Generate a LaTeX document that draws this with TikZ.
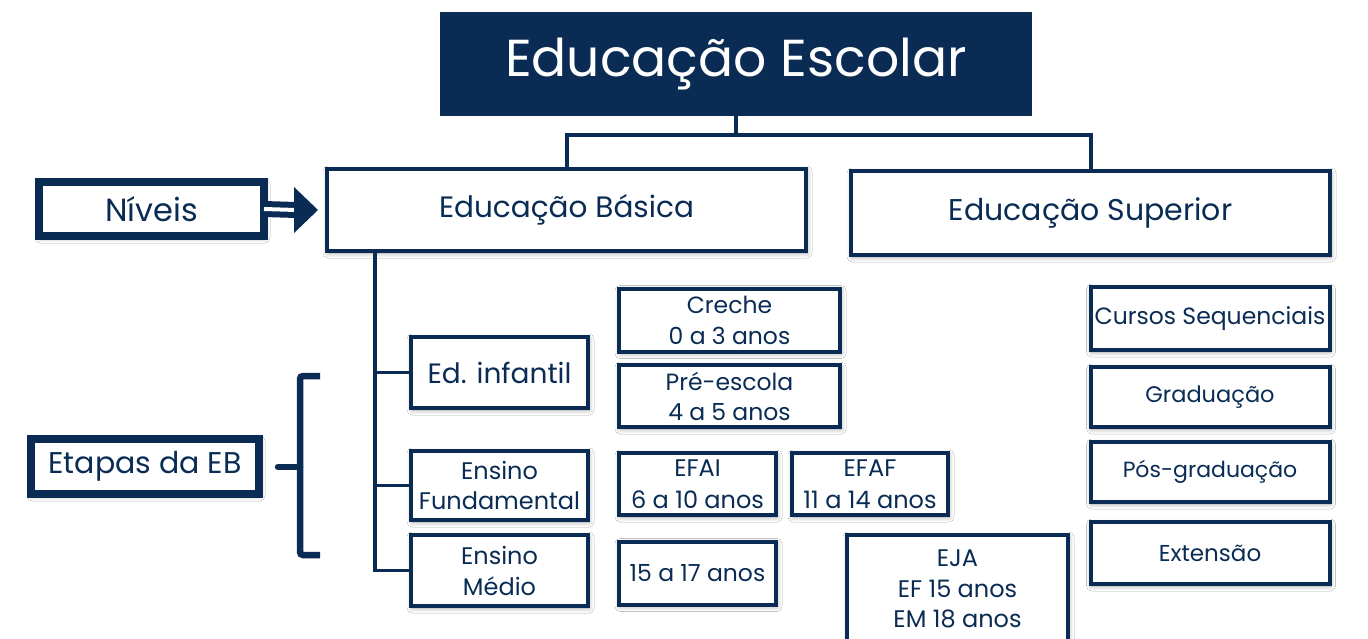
\documentclass[tikz,border=0pt]{standalone}
\usepackage{fontspec}
\setmainfont{Poppins}
\usetikzlibrary{shadows,shadows.blur}
\definecolor{navy}{HTML}{0A2C54}
\begin{document}
\begin{tikzpicture}[x=1pt,y=-1pt,
  box/.style={draw=navy, line width=4pt, fill=white, text=navy, inner sep=0pt,
    outer sep=0pt, align=center, font=\fontsize{22}{31}\selectfont,
    blur shadow={shadow xshift=1pt, shadow yshift=-2pt, shadow blur steps=6, shadow blur radius=5pt, shadow opacity=35}},
  heavybox/.style={box, line width=8pt},
  link/.style={draw=navy, line width=3.5pt},
  dimbox/.style 2 args={minimum width=#1, minimum height=#2}]
\fill[white] (0,0) rectangle (1368,639);
\useasboundingbox (0,0) rectangle (1368,639);
\clip (0,0) rectangle (1368,639);

% title
\node[fill=navy, text=white, inner sep=0pt, outer sep=0pt, dimbox={592pt}{104pt},
  font=\fontsize{52}{60}\selectfont] (title) at (736,64) {Educação Escolar};

% level boxes
\node[box, dimbox={479pt}{82pt}, font=\fontsize{29.5}{34}\selectfont] (basica) at (566.5,210) {Educação Básica};
\node[box, dimbox={479pt}{84pt}, font=\fontsize{30}{34}\selectfont] (superior) at (1090.5,213) {Educação Superior};
\node[heavybox, dimbox={225pt}{54pt}, font=\fontsize{32}{36}\selectfont] (niveis) at (151.5,209) {Níveis};
\node[heavybox, dimbox={228pt}{55pt}, font=\fontsize{30}{36}\selectfont] (etapas) at (145,466.5) {Etapas da EB};

% stages
\node[box, dimbox={177pt}{71pt}, font=\fontsize{28}{32}\selectfont] (edinf) at (499.5,372.5) {Ed. infantil};
\node[box, dimbox={177pt}{69pt}, font=\fontsize{24}{30}\selectfont] (ensfund) at (499.5,485.5) {Ensino\\Fundamental};
\node[box, dimbox={177pt}{71pt}, font=\fontsize{24}{31}\selectfont] (ensmed) at (499.5,570.5) {Ensino\\Médio};

% sub-stages
\node[box, dimbox={221pt}{63pt}, font=\fontsize{23.5}{31}\selectfont] (creche) at (729.5,320) {Creche\\0 a 3 anos};
\node[box, dimbox={221pt}{62pt}, font=\fontsize{23.5}{30}\selectfont] (pre) at (729.5,396) {Pré-escola\\4 a 5 anos};
\node[box, dimbox={157pt}{62pt}, font=\fontsize{24}{32}\selectfont] (efai) at (697.5,484) {EFAI\\6 a 10 anos};
\node[box, dimbox={156pt}{62pt}, font=\fontsize{24}{32}\selectfont] (efaf) at (870,484) {EFAF\\11 a 14 anos};
\node[box, dimbox={157pt}{63pt}, font=\fontsize{23.5}{30}\selectfont] (em) at (697.5,573) {15 a 17 anos};
\node[box, dimbox={221pt}{108pt}, font=\fontsize{24}{30.5}\selectfont] (eja) at (957.5,589) {EJA\\EF 15 anos\\EM 18 anos};

% higher education
\node[box, dimbox={239pt}{63pt}, font=\fontsize{23.5}{30}\selectfont] (cursos) at (1210,318.5) {Cursos Sequenciais};
\node[box, dimbox={239pt}{60pt}, font=\fontsize{22.5}{30}\selectfont] (grad) at (1210,397) {Graduação};
\node[box, dimbox={239pt}{60pt}, font=\fontsize{22}{30}\selectfont] (pos) at (1210,472) {Pós-graduação};
\node[box, dimbox={239pt}{62pt}, font=\fontsize{23}{30}\selectfont] (ext) at (1210,553) {Extensão};

% title connectors
\coordinate (junc) at ([yshift=-19pt]title.south);
\draw[link, line width=4pt] (title.south) -- (junc);
\draw[link, line width=4pt] (basica.north) |- (junc) -| (superior.north);

% spine from Educação Básica
\coordinate (spine) at ([xshift=48pt]basica.south west);
\draw[link] (spine) |- (edinf.west);
\draw[link] (spine) |- (ensfund.west);
\draw[link] (spine) |- (ensmed.west);

% double arrow Níveis => Educação Básica
\coordinate (arrtip) at ([xshift=-9pt]basica.west);
\coordinate (arrbase) at ([xshift=-33pt]basica.west);
\draw[navy, line width=6pt, double=white, double distance=4pt] (niveis.east) -- ([xshift=2pt]arrbase);
\fill[navy] (arrtip) -- ([yshift=23pt]arrbase) -- ([yshift=-23pt]arrbase) -- cycle;

% bracket for Etapas
\coordinate (brtop) at (320,376);
\coordinate (brbot) at (320,555);
\coordinate (brmid) at (300,467);
\coordinate (brtick) at (278,467);
\draw[navy, line width=6.5pt, rounded corners=3pt] (brtop) -- (300,376) -- (300,555) -- (brbot);
\draw[navy, line width=6.5pt, line cap=round] (brtick) -- (brmid);
\end{tikzpicture}
\end{document}
